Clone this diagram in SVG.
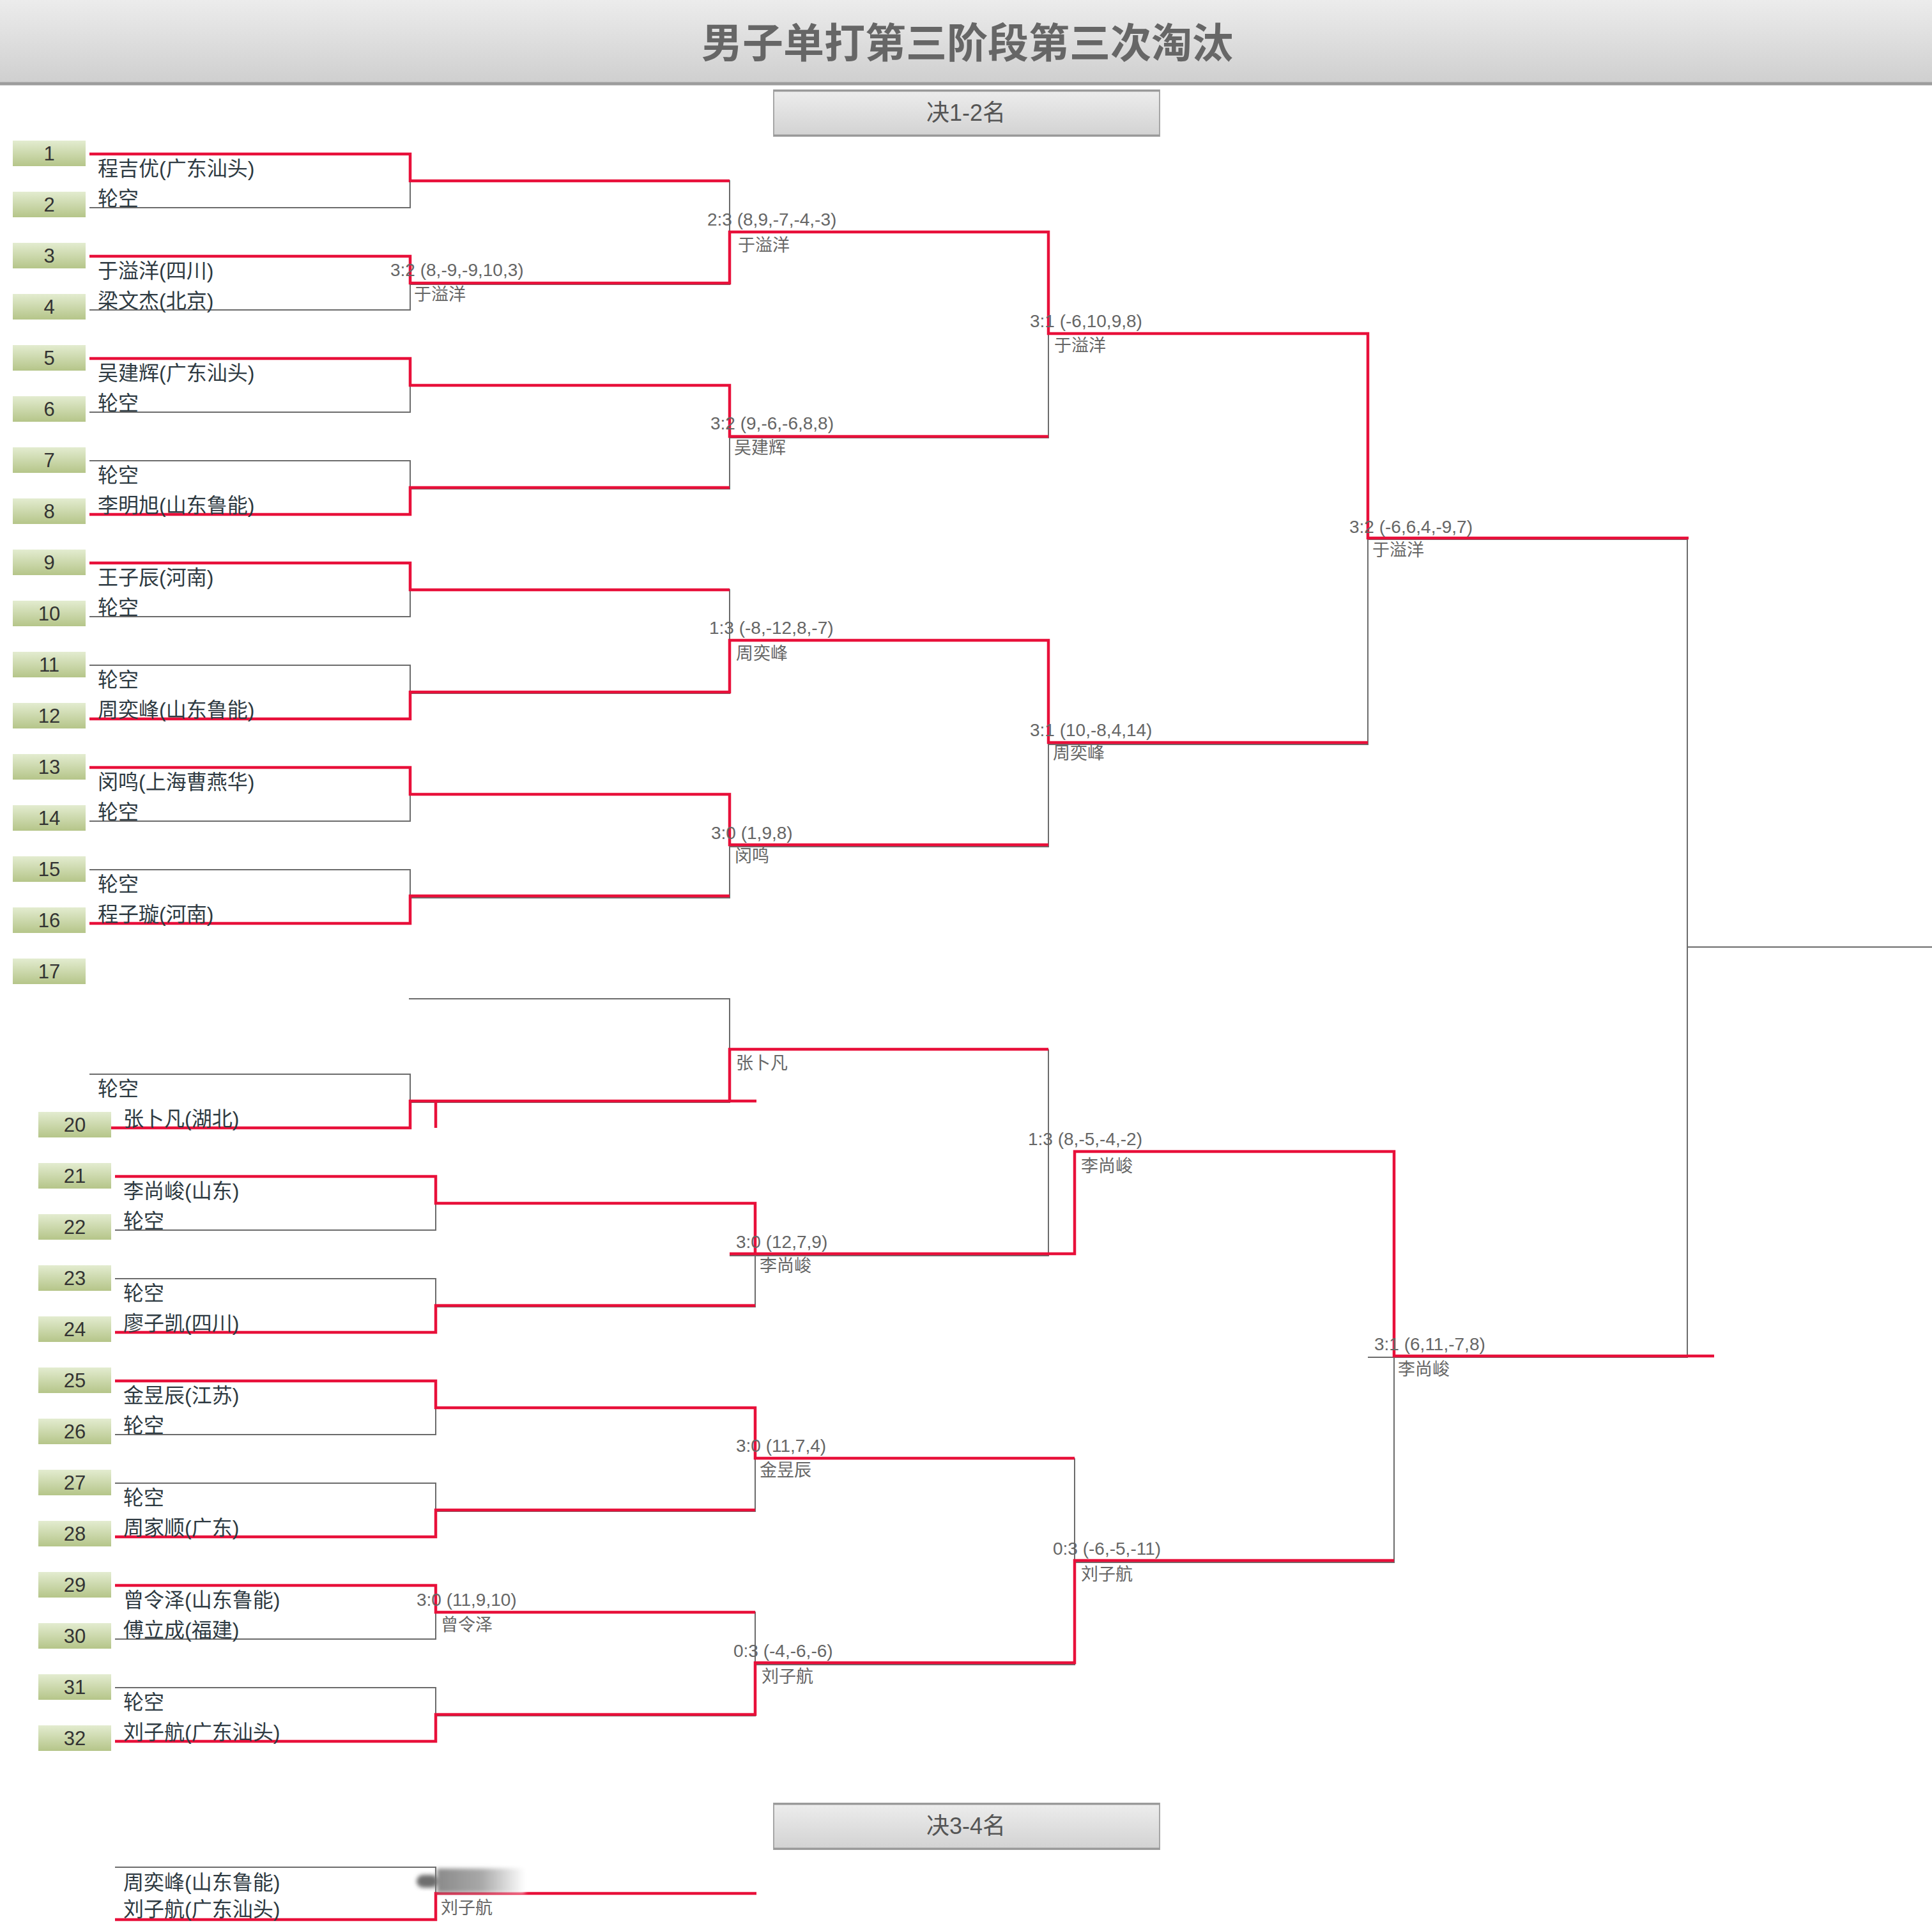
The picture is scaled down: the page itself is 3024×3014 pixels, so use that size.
<svg xmlns="http://www.w3.org/2000/svg" width="3024" height="3014" viewBox="0 0 3024 3014">
<defs>
<linearGradient id="gTitle" x1="0" y1="0" x2="0" y2="1"><stop offset="0" stop-color="#ececec"/><stop offset="1" stop-color="#cfcfcf"/></linearGradient>
<linearGradient id="gBtn" x1="0" y1="0" x2="0" y2="1"><stop offset="0" stop-color="#ededed"/><stop offset="1" stop-color="#d2d2d2"/></linearGradient>
<linearGradient id="gSeed" x1="0" y1="0" x2="0" y2="1"><stop offset="0" stop-color="#e3ecd0"/><stop offset="1" stop-color="#b5c589"/></linearGradient>
<linearGradient id="gBlur" x1="0" y1="0" x2="1" y2="0"><stop offset="0" stop-color="#8a8a8a"/><stop offset="0.5" stop-color="#a8a8a8"/><stop offset="1" stop-color="#ffffff"/></linearGradient>
<filter id="fBlur" x="-0.2" y="-0.3" width="1.4" height="1.6"><feGaussianBlur stdDeviation="3"/></filter>
<style>
.seed rect{fill:url(#gSeed);}
.seed text{font-family:"Liberation Sans","Noto Sans CJK SC",sans-serif;font-size:31px;fill:#333;text-anchor:middle;}
.pn{font-family:"Liberation Sans","Noto Sans CJK SC",sans-serif;font-size:32px;fill:#2e3a42;}
.sc{font-family:"Liberation Sans","Noto Sans CJK SC",sans-serif;font-size:28px;fill:#666;}
.wn{font-family:"Liberation Sans","Noto Sans CJK SC",sans-serif;font-size:27px;fill:#666;}
.g{fill:none;stroke:#6b6b6b;stroke-width:2;}
.r{fill:none;stroke:#e8103a;stroke-width:4.5;}
.btn rect{fill:url(#gBtn);stroke:#a6a6a6;stroke-width:2;}
.btn text{font-family:"Liberation Sans","Noto Sans CJK SC",sans-serif;font-size:36px;fill:#555;text-anchor:middle;}
</style>
</defs>
<rect width="3024" height="3014" fill="#ffffff"/>
<g id="title">
<rect x="0" y="0" width="3024" height="130" fill="url(#gTitle)"/>
<line x1="0" y1="131" x2="3024" y2="131" stroke="#9d9d9d" stroke-width="5"/>
<text x="1514" y="90" font-family="'Liberation Sans','Noto Sans CJK SC',sans-serif" font-size="64" font-weight="bold" fill="#666" text-anchor="middle">男子单打第三阶段第三次淘汰</text>
</g>
<g id="btn-final" class="btn"><rect x="1211" y="141" width="604" height="72"/><line x1="1211" y1="142" x2="1815" y2="142" stroke="#999" stroke-width="3"/><line x1="1211" y1="212" x2="1815" y2="212" stroke="#999" stroke-width="3"/><text x="1512" y="189">决1-2名</text></g>
<g id="btn-third" class="btn"><rect x="1211" y="2822" width="604" height="72"/><line x1="1211" y1="2823" x2="1815" y2="2823" stroke="#999" stroke-width="3"/><line x1="1211" y1="2893" x2="1815" y2="2893" stroke="#999" stroke-width="3"/><text x="1512" y="2870">决3-4名</text></g>

<g id="seeds">
<g id="seed1" class="seed"><rect x="20" y="220" width="114" height="40"/><text x="77" y="251">1</text></g>
<g id="seed2" class="seed"><rect x="20" y="300" width="114" height="40"/><text x="77" y="331">2</text></g>
<g id="seed3" class="seed"><rect x="20" y="380" width="114" height="40"/><text x="77" y="411">3</text></g>
<g id="seed4" class="seed"><rect x="20" y="460" width="114" height="40"/><text x="77" y="491">4</text></g>
<g id="seed5" class="seed"><rect x="20" y="540" width="114" height="40"/><text x="77" y="571">5</text></g>
<g id="seed6" class="seed"><rect x="20" y="620" width="114" height="40"/><text x="77" y="651">6</text></g>
<g id="seed7" class="seed"><rect x="20" y="700" width="114" height="40"/><text x="77" y="731">7</text></g>
<g id="seed8" class="seed"><rect x="20" y="780" width="114" height="40"/><text x="77" y="811">8</text></g>
<g id="seed9" class="seed"><rect x="20" y="860" width="114" height="40"/><text x="77" y="891">9</text></g>
<g id="seed10" class="seed"><rect x="20" y="940" width="114" height="40"/><text x="77" y="971">10</text></g>
<g id="seed11" class="seed"><rect x="20" y="1020" width="114" height="40"/><text x="77" y="1051">11</text></g>
<g id="seed12" class="seed"><rect x="20" y="1100" width="114" height="40"/><text x="77" y="1131">12</text></g>
<g id="seed13" class="seed"><rect x="20" y="1180" width="114" height="40"/><text x="77" y="1211">13</text></g>
<g id="seed14" class="seed"><rect x="20" y="1260" width="114" height="40"/><text x="77" y="1291">14</text></g>
<g id="seed15" class="seed"><rect x="20" y="1340" width="114" height="40"/><text x="77" y="1371">15</text></g>
<g id="seed16" class="seed"><rect x="20" y="1420" width="114" height="40"/><text x="77" y="1451">16</text></g>
<g id="seed17" class="seed"><rect x="20" y="1500" width="114" height="40"/><text x="77" y="1531">17</text></g>
<g id="seed20" class="seed"><rect x="60" y="1740" width="114" height="40"/><text x="117" y="1771">20</text></g>
<g id="seed21" class="seed"><rect x="60" y="1820" width="114" height="40"/><text x="117" y="1851">21</text></g>
<g id="seed22" class="seed"><rect x="60" y="1900" width="114" height="40"/><text x="117" y="1931">22</text></g>
<g id="seed23" class="seed"><rect x="60" y="1980" width="114" height="40"/><text x="117" y="2011">23</text></g>
<g id="seed24" class="seed"><rect x="60" y="2060" width="114" height="40"/><text x="117" y="2091">24</text></g>
<g id="seed25" class="seed"><rect x="60" y="2140" width="114" height="40"/><text x="117" y="2171">25</text></g>
<g id="seed26" class="seed"><rect x="60" y="2220" width="114" height="40"/><text x="117" y="2251">26</text></g>
<g id="seed27" class="seed"><rect x="60" y="2300" width="114" height="40"/><text x="117" y="2331">27</text></g>
<g id="seed28" class="seed"><rect x="60" y="2380" width="114" height="40"/><text x="117" y="2411">28</text></g>
<g id="seed29" class="seed"><rect x="60" y="2460" width="114" height="40"/><text x="117" y="2491">29</text></g>
<g id="seed30" class="seed"><rect x="60" y="2540" width="114" height="40"/><text x="117" y="2571">30</text></g>
<g id="seed31" class="seed"><rect x="60" y="2620" width="114" height="40"/><text x="117" y="2651">31</text></g>
<g id="seed32" class="seed"><rect x="60" y="2700" width="114" height="40"/><text x="117" y="2731">32</text></g>
</g>

<g id="connectors">
<path class="g" d="M140 241H642V325H140 M140 401H642V485H140 M140 561H642V645H140 M140 721H642V805H140 M140 881H642V965H140 M140 1041H642V1125H140 M140 1201H642V1285H140 M140 1361H642V1445H140 M140 1681H642V1765H174"/>
<path class="g" d="M180 1841H682V1925H180 M180 2001H682V2085H180 M180 2161H682V2245H180 M180 2321H682V2405H180 M180 2481H682V2565H180 M180 2641H682V2725H180"/>
<path class="g" d="M642 283H1142V445H642 M642 603H1142V765H642 M642 923H1142V1085H642 M642 1243H1142V1405H642 M640 1563H1142V1725H642"/>
<path class="g" d="M682 1883H1182V2045H682 M682 2203H1182V2365H682 M682 2523H1182V2685H682"/>
<path class="g" d="M1142 363H1641V685H1142 M1142 1003H1641V1325H1142 M1142 1643H1641V1965H1142 M1182 2283H1682V2605H1182"/>
<path class="g" d="M1641 523H2141V1165H1641 M1682 1803H2182V2445H1682"/>
<path class="g" d="M2141 844H2641V2124H2141 M2641 1482H3024"/>

<path class="r" d="M140 241H642V283H1142"/>
<path class="r" d="M140 401H642V443H1142V363H1641V522H2141V842H2643"/>
<path class="r" d="M140 561H642V603H1142V683H1641"/>
<path class="r" d="M140 805H642V763H1142"/>
<path class="r" d="M140 881H642V923H1142"/>
<path class="r" d="M140 1125H642V1083H1142V1002H1641V1162H2141"/>
<path class="r" d="M140 1201H642V1243H1142V1322H1641"/>
<path class="r" d="M140 1445H642V1402H1142"/>
<path class="r" d="M174 1765H642V1723H1142V1642H1641 M682 1723V1765 M1142 1723H1184"/>
<path class="r" d="M180 1841H682V1883H1182V1962H1682V1802H2182V2122H2683 M1142 1962H1182"/>
<path class="r" d="M180 2085H682V2043H1182"/>
<path class="r" d="M180 2161H682V2203H1182V2282H1682"/>
<path class="r" d="M180 2405H682V2363H1182"/>
<path class="r" d="M180 2481H682V2523H1182"/>
<path class="r" d="M180 2725H682V2683H1182V2602H1682V2442H2182"/>

<path class="g" d="M180 2922H682V2963"/>
<path class="r" d="M180 3004H682V2963H1184"/>
<rect x="684" y="2924" width="138" height="38" fill="url(#gBlur)" filter="url(#fBlur)"/>
<rect x="652" y="2934" width="34" height="20" rx="10" fill="#6e6e6e" filter="url(#fBlur)"/>
</g>

<g id="players">
<text class="pn" x="153" y="275">程吉优(广东汕头)</text><text class="pn" x="153" y="322">轮空</text>
<text class="pn" x="153" y="435">于溢洋(四川)</text><text class="pn" x="153" y="482">梁文杰(北京)</text>
<text class="pn" x="153" y="595">吴建辉(广东汕头)</text><text class="pn" x="153" y="642">轮空</text>
<text class="pn" x="153" y="755">轮空</text><text class="pn" x="153" y="802">李明旭(山东鲁能)</text>
<text class="pn" x="153" y="915">王子辰(河南)</text><text class="pn" x="153" y="962">轮空</text>
<text class="pn" x="153" y="1075">轮空</text><text class="pn" x="153" y="1122">周奕峰(山东鲁能)</text>
<text class="pn" x="153" y="1235">闵鸣(上海曹燕华)</text><text class="pn" x="153" y="1282">轮空</text>
<text class="pn" x="153" y="1395">轮空</text><text class="pn" x="153" y="1442">程子璇(河南)</text>
<text class="pn" x="153" y="1715">轮空</text><text class="pn" x="193" y="1762">张卜凡(湖北)</text>
<text class="pn" x="193" y="1875">李尚峻(山东)</text><text class="pn" x="193" y="1922">轮空</text>
<text class="pn" x="193" y="2035">轮空</text><text class="pn" x="193" y="2082">廖子凯(四川)</text>
<text class="pn" x="193" y="2195">金昱辰(江苏)</text><text class="pn" x="193" y="2242">轮空</text>
<text class="pn" x="193" y="2355">轮空</text><text class="pn" x="193" y="2402">周家顺(广东)</text>
<text class="pn" x="193" y="2515">曾令泽(山东鲁能)</text><text class="pn" x="193" y="2562">傅立成(福建)</text>
<text class="pn" x="193" y="2675">轮空</text><text class="pn" x="193" y="2722">刘子航(广东汕头)</text>
<text class="pn" x="193" y="2957">周奕峰(山东鲁能)</text><text class="pn" x="193" y="2999">刘子航(广东汕头)</text>
</g>

<g id="results">
<g id="m-r1-2"><text class="sc" x="611" y="432">3:2 (8,-9,-9,10,3)</text><text class="wn" x="648" y="470">于溢洋</text></g>
<g id="m-r1-15"><text class="sc" x="652" y="2513">3:0 (11,9,10)</text><text class="wn" x="690" y="2552">曾令泽</text></g>
<g id="m-r2-1"><text class="sc" x="1107" y="353">2:3 (8,9,-7,-4,-3)</text><text class="wn" x="1155" y="393">于溢洋</text></g>
<g id="m-r2-2"><text class="sc" x="1112" y="672">3:2 (9,-6,-6,8,8)</text><text class="wn" x="1149" y="710">吴建辉</text></g>
<g id="m-r2-3"><text class="sc" x="1110" y="992">1:3 (-8,-12,8,-7)</text><text class="wn" x="1152" y="1032">周奕峰</text></g>
<g id="m-r2-4"><text class="sc" x="1113" y="1313">3:0 (1,9,8)</text><text class="wn" x="1150" y="1349">闵鸣</text></g>
<g id="m-r2-5"><text class="wn" x="1152" y="1673">张卜凡</text></g>
<g id="m-r2-6"><text class="sc" x="1152" y="1953">3:0 (12,7,9)</text><text class="wn" x="1189" y="1990">李尚峻</text></g>
<g id="m-r2-7"><text class="sc" x="1152" y="2272">3:0 (11,7,4)</text><text class="wn" x="1189" y="2310">金昱辰</text></g>
<g id="m-r2-8"><text class="sc" x="1148" y="2593">0:3 (-4,-6,-6)</text><text class="wn" x="1192" y="2633">刘子航</text></g>
<g id="m-r3-1"><text class="sc" x="1612" y="512">3:1 (-6,10,9,8)</text><text class="wn" x="1650" y="550">于溢洋</text></g>
<g id="m-r3-2"><text class="sc" x="1612" y="1152">3:1 (10,-8,4,14)</text><text class="wn" x="1648" y="1188">周奕峰</text></g>
<g id="m-r3-3"><text class="sc" x="1609" y="1792">1:3 (8,-5,-4,-2)</text><text class="wn" x="1692" y="1834">李尚峻</text></g>
<g id="m-r3-4"><text class="sc" x="1648" y="2433">0:3 (-6,-5,-11)</text><text class="wn" x="1692" y="2473">刘子航</text></g>
<g id="m-sf-1"><text class="sc" x="2112" y="834">3:2 (-6,6,4,-9,7)</text><text class="wn" x="2148" y="870">于溢洋</text></g>
<g id="m-sf-2"><text class="sc" x="2151" y="2113">3:1 (6,11,-7,8)</text><text class="wn" x="2188" y="2152">李尚峻</text></g>
<g id="m-34"><text class="wn" x="690" y="2995">刘子航</text></g>
</g>
</svg>
